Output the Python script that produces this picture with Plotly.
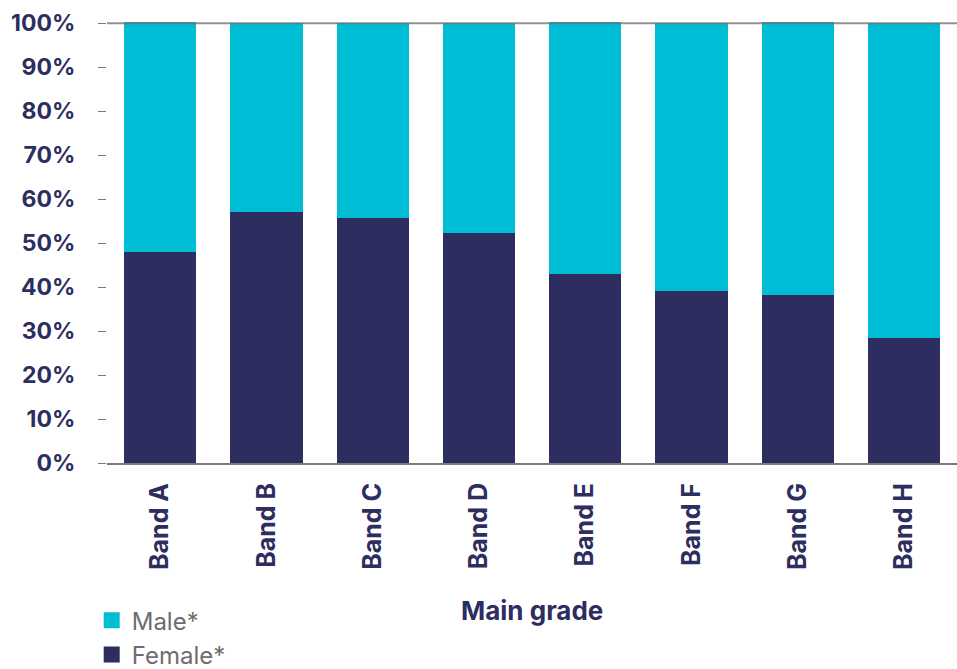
import plotly.graph_objects as go

categories = ["Band A", "Band B", "Band C", "Band D", "Band E", "Band F", "Band G", "Band H"]
female = [0.480, 0.570, 0.557, 0.523, 0.430, 0.391, 0.382, 0.284]
male = [0.523, 0.430, 0.443, 0.477, 0.573, 0.609, 0.621, 0.716]
x_title = "Main grade"

NAVY = "#2D2D5F"
TEAL = "#00BDD6"

fig = go.Figure()
fig.add_trace(go.Bar(x=categories, y=female, name="Female*", showlegend=False,
                     marker=dict(color=NAVY, line=dict(width=0))))
fig.add_trace(go.Bar(x=categories, y=male, name="Male*", showlegend=False,
                     marker=dict(color=TEAL, line=dict(width=0))))
# legend entries
fig.add_trace(go.Scatter(x=[None], y=[None], mode="markers", name="Male*",
                         marker=dict(symbol="square", size=18, color=TEAL)))
fig.add_trace(go.Scatter(x=[None], y=[None], mode="markers", name="Female*",
                         marker=dict(symbol="square", size=18, color=NAVY)))

fig.add_shape(type="line", xref="paper", yref="y", x0=0, x1=1, y0=1, y1=1,
              line=dict(color="rgba(110,110,110,0.75)", width=2), layer="above")

fig.add_annotation(text=x_title, xref="paper", yref="paper", x=0.5, y=-0.334,
                   xanchor="center", yanchor="middle", showarrow=False,
                   font=dict(family="Inter", size=26, color=NAVY, weight="bold"))

fig.update_layout(
    width=957, height=669,
    barmode="stack", bargap=0.32,
    plot_bgcolor="white", paper_bgcolor="white",
    margin=dict(l=107, r=0, t=22, b=206, autoexpand=False),
    legend=dict(traceorder="normal", orientation="v", x=-0.018, xanchor="left",
                yref="container", y=0.106, yanchor="top",
                font=dict(family="Inter", size=24, color="#6d6d6d"),
                itemsizing="trace", tracegroupgap=0, itemwidth=30),
    showlegend=True,
)
fig.update_xaxes(
    tickangle=-90, showline=True, linecolor="#7a7a7a", linewidth=2,
    tickfont=dict(family="Inter", size=25, color=NAVY, weight="bold"),
    ticks="", ticklabelstandoff=8, automargin=False,
)
fig.update_yaxes(
    range=[0, 1.003], tickvals=[0, .1, .2, .3, .4, .5, .6, .7, .8, .9, 1.0],
    tickformat=".0%", showgrid=False, zeroline=False, showline=False,
    ticks="outside", ticklen=8, tickcolor="#7a7a7a", tickwidth=1,
    tickfont=dict(family="Inter", size=23, color=NAVY, weight="bold"), ticklabelstandoff=18,
    automargin=False,
)

fig.write_html("out.html")
